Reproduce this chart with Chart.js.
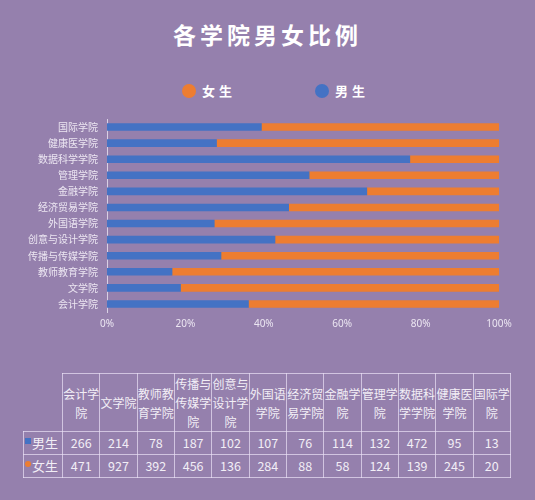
<!DOCTYPE html>
<html><head><meta charset="utf-8">
<script src="https://cdn.jsdelivr.net/npm/chart.js@4.4.1/dist/chart.umd.min.js"></script>
<style>
html,body{margin:0;padding:0;background:#9580ad;width:535px;height:500px;overflow:hidden;font-family:"Noto Sans CJK SC","Noto Sans",sans-serif;}
#wrap{position:relative;width:535px;height:500px;}
#title{position:absolute;left:0;top:16px;width:535px;text-align:center;color:#fff;font-size:23px;font-weight:700;letter-spacing:4px;line-height:36px;}
.leg{position:absolute;top:82px;height:18px;line-height:18px;color:#fff;font-size:13px;font-weight:700;letter-spacing:4px;}
.dot{position:absolute;width:14px;height:14px;border-radius:50%;top:2px;left:0;}
.leg span{position:absolute;left:20px;top:0;white-space:nowrap;}
#cv{position:absolute;left:0;top:0;}
table{position:absolute;left:23px;top:373px;border-collapse:collapse;table-layout:fixed;color:#f2eef6;font-size:12px;}
td{border:1px solid rgba(235,225,245,0.7);text-align:center;padding:0;overflow:hidden;}
td.h{height:57px;line-height:19px;word-break:break-all;}
td.v{height:22px;line-height:22px;font-size:12.5px;}
td.corner{border:none;}
td.rh{font-size:13px;text-align:right;padding-right:4px;}
.sq{display:inline-block;width:6px;height:6px;margin-right:1px;vertical-align:4px;}
</style></head>
<body><div id="wrap">
<div id="title">各学院男女比例</div>
<div class="leg" style="left:182px;width:60px"><div class="dot" style="background:#ed7d31"></div><span>女生</span></div>
<div class="leg" style="left:315px;width:60px"><div class="dot" style="background:#4472c4"></div><span>男生</span></div>
<canvas id="cv" width="535" height="345"></canvas>
<table id="tb"></table>
</div>
<script>
const categories = ["会计学院","文学院","教师教育学院","传播与传媒学院","创意与设计学院","外国语学院","经济贸易学院","金融学院","管理学院","数据科学学院","健康医学院","国际学院"];
const male   = [266, 214, 78, 187, 102, 107, 76, 114, 132, 472, 95, 13];
const female = [471, 927, 392, 456, 136, 284, 88, 58, 124, 139, 245, 20];
const xTicks = [0, 20, 40, 60, 80, 100];
const maleColor = "#4472c4", femaleColor = "#ed7d31";

const malePct = male.map((m,i)=> m/(m+female[i])*100);
const femalePct = female.map((f,i)=> f/(male[i]+f)*100);

new Chart(document.getElementById('cv'), {
  type: 'bar',
  data: {
    labels: categories,
    datasets: [
      {label:'男生', data: malePct, backgroundColor: maleColor, barThickness: 7},
      {label:'女生', data: femalePct, backgroundColor: femaleColor, barThickness: 7}
    ]
  },
  options: {
    indexAxis: 'y',
    responsive: false,
    animation: false,
    layout: {padding: {top: 119, right: 36, left: 0, bottom: 9}},
    plugins: {legend: {display: false}, title: {display: false}, tooltip: {enabled: false}},
    scales: {
      x: {
        stacked: true, min: 0, max: 100,
        afterBuildTicks: s => { s.ticks = xTicks.map(v => ({value: v})); },
        grid: {display: false, drawTicks: false},
        border: {display: false},
        ticks: {padding: 6, color: '#ece6f2', font: {size: 10, family: '"Noto Sans","DejaVu Sans",sans-serif'}, callback: v => v + '%'}
      },
      y: {
        stacked: true, reverse: true,
        afterFit: s => { s.width = 107; },
        grid: {display: false, drawTicks: false},
        border: {display: true, color: '#d9d0e4', width: 1},
        ticks: {padding: 9, color: '#ece6f2', font: {size: 10, family: '"Noto Sans CJK SC",sans-serif'}}
      }
    }
  }
});

// table built from the arrays
const tb = document.getElementById('tb');
let html = '<colgroup><col style="width:39px">' + categories.map(()=>'<col style="width:37.33px">').join('') + '</colgroup>';
html += '<tr><td class="corner h"></td>' + categories.map(c=>'<td class="h">'+c+'</td>').join('') + '</tr>';
html += '<tr><td class="rh v"><span class="sq" style="background:'+maleColor+'"></span>男生</td>' + male.map(v=>'<td class="v">'+v+'</td>').join('') + '</tr>';
html += '<tr><td class="rh v"><span class="sq" style="background:'+femaleColor+';border-radius:50%"></span>女生</td>' + female.map(v=>'<td class="v">'+v+'</td>').join('') + '</tr>';
tb.innerHTML = html;
</script>
</body></html>
